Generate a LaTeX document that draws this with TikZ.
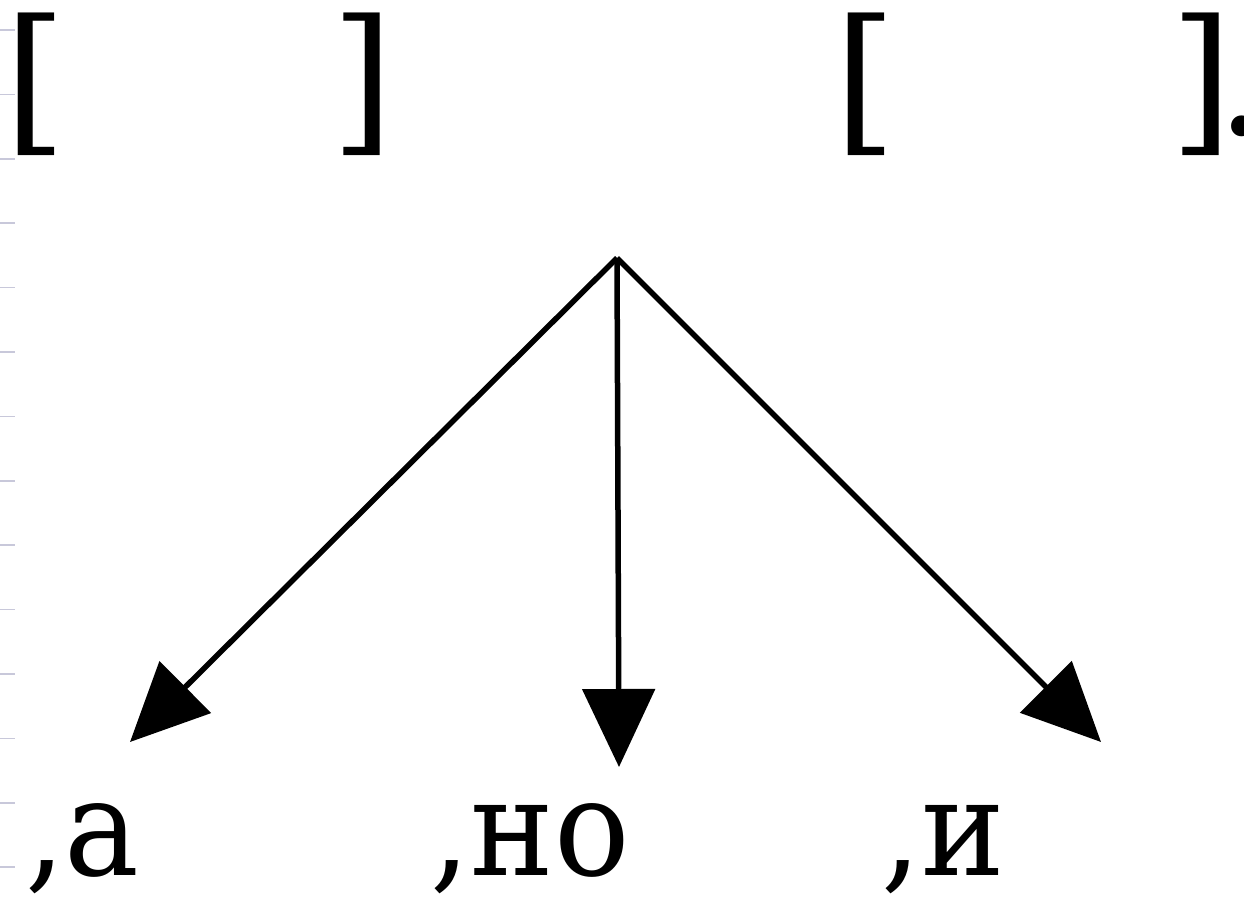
\documentclass[tikz,border=0pt]{standalone}
\usepackage{fontspec}
\usetikzlibrary{arrows.meta}
\newfontfamily\lblfont{DejaVu Serif}
\definecolor{tickgray}{RGB}{200,200,218}
\begin{document}
\begin{tikzpicture}[x=1pt,y=-1pt,
  txt/.style={inner sep=0pt, font=\lblfont\fontsize{135}{135}\selectfont, xscale=0.93},
  brk/.style={inner sep=0pt, font=\lblfont\fontsize{160}{160}\selectfont},
  arr/.style={line width=5.5pt, -{Triangle[length=78pt,width=72pt]}},
  tickmark/.style={draw=tickgray, line width=1.5pt}]
\useasboundingbox (0,0) rectangle (1244,899);
% faint ruling ticks at the left edge
\foreach \k in {0,...,13}{
  \draw[tickmark] (0,{30+64.4*\k}) -- (15,{30+64.4*\k});
}
% brackets
\node[brk, anchor=base west] (lb1) at (4,134) {[};
\node[brk, anchor=base east] (rb1) at (394,134) {]};
\node[brk, anchor=base west] (lb2) at (834,134) {[};
\node[brk, anchor=base west] (rb2) at (1170,134) {]\kern-0.1em.};
% arrows
\coordinate (apex) at (617,258);
\coordinate (tl) at (130,742);
\coordinate (tm) at (619,767);
\coordinate (tr) at (1101,742);
\draw[arr] (apex) -- (tl);
\draw[arr] (apex) -- (tm);
\draw[arr] (apex) -- (tr);
% labels
\node[txt, anchor=base east] (la) at (140,875) {,а};
\node[txt, anchor=base east] (lno) at (630,875) {,но};
\node[txt, anchor=base east] (li) at (1005,875) {,и};
\end{tikzpicture}
\end{document}
